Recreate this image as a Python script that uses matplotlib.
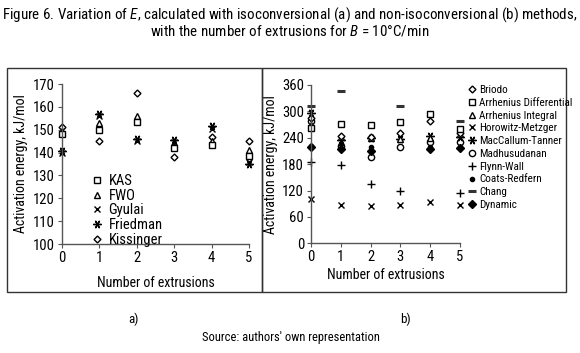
import numpy as np
import matplotlib
matplotlib.use("Agg")
import matplotlib.pyplot as plt
from matplotlib.patches import Rectangle
from matplotlib import font_manager as fm

names = {f.name for f in fm.fontManager.ttflist}
cond = [n for n in ['Roboto Condensed', 'Liberation Sans Narrow', 'Open Sans Condensed',
                    'DejaVu Sans Condensed'] if n in names]
base = cond[0] if cond else 'Roboto'
plt.rcParams['font.family'] = [base, 'DejaVu Sans']
plt.rcParams['mathtext.fontset'] = 'custom'
plt.rcParams['mathtext.rm'] = base
plt.rcParams['mathtext.it'] = base + ':italic'

extrusions = [0, 1, 2, 3, 4, 5]

# Panel a: isoconversional methods (kJ/mol)
kas = [148, 150, 153.5, 142, 143.5, 138.5]
fwo = [149.5, 153, 156, 143, 145, 141]
gyulai = [140, 156, 145, 144.5, 150.5, 136]
friedman = [140.5, 157, 146, 145.5, 151.5, 135]
kissinger = [151, 145, 166, 138, 147, 145]

# Panel b: non-isoconversional methods (kJ/mol)
nan = np.nan
briodo = [284, 245, 242, 250, 277, 250]
arr_diff = [263, 272, 268, 276, 294, 260]
arr_int = [270, 242, 239, 237, 240, 248]
horowitz = [100, 87, 85, 87, 95, 88]
maccallum = [296, 235, 240, 238, 244, 242]
madhu = [279, 221, 196, 220, 231, 231]
flynn = [186, 178, 135, 119, nan, 115]
coats = [222, 225, 218, nan, 218, 218]
chang = [312, 347, nan, 312, nan, 278]
dynamic = [220, 214, 211, nan, 214, 216]

W, H = 580, 353
fig = plt.figure(figsize=(W / 100, H / 100), dpi=100)

def fx(px):
    return px / W

def fy(py):
    return 1 - py / H

# panel frames
for x0, x1 in [(6.5, 261.5), (261.5, 566)]:
    fig.patches.append(Rectangle((fx(x0), fy(292)), fx(x1) - fx(x0), fy(68) - fy(292),
                                 transform=fig.transFigure, fill=False, lw=1.0,
                                 edgecolor='#333333'))

axa = fig.add_axes([fx(62), fy(244), fx(249) - fx(62), fy(84) - fy(244)])
axb = fig.add_axes([fx(311), fy(243.3), fx(460) - fx(311), fy(85) - fy(243.3)])

def style(ax):
    for s in ['top', 'right']:
        ax.spines[s].set_visible(False)
    for s in ['left', 'bottom']:
        ax.spines[s].set_color('#555555')
        ax.spines[s].set_linewidth(1.0)
    ax.tick_params(axis='both', direction='out', length=3, width=0.8, colors='#555555',
                   labelcolor='black', labelsize=10.5)
    ax.tick_params(axis='y', pad=2)
    ax.set_xlim(0, 5)
    ax.set_xticks(extrusions)
    ax.set_facecolor('none')

style(axa)
axa.set_ylim(100, 170)
axa.set_yticks(range(100, 171, 10))
axa.tick_params(axis='x', pad=2)

k = dict(color='black', linestyle='none', clip_on=False, mew=1.0)
axa.plot(extrusions, gyulai, marker='x', ms=5, label='Gyulai', **k)
axa.plot(extrusions, friedman, marker=(6, 2, 90), ms=6, label='Friedman', **k)
axa.plot(extrusions, kissinger, marker='D', ms=3.5, mfc='white', label='Kissinger', **k)
axa.plot(extrusions, fwo, marker='^', ms=4.5, mfc='white', label='FWO', **k)
axa.plot(extrusions, kas, marker='s', ms=5, mfc='white', label='KAS', **k)
h, l = axa.get_legend_handles_labels()
order = ['KAS', 'FWO', 'Gyulai', 'Friedman', 'Kissinger']
hh = [h[l.index(o)] for o in order]
fig.legend(hh, order, loc='upper left', bbox_to_anchor=(fx(91), fy(174)),
           frameon=False, fontsize=10.5, handlelength=0.8, handletextpad=0.4,
           labelspacing=0.05, borderpad=0, borderaxespad=0)
axa.set_ylabel('Activation energy, kJ/mol', fontsize=10)
axa.yaxis.set_label_coords((28 - 62) / 187, 0.5)
axa.set_xlabel('Number of extrusions', fontsize=10, labelpad=8)

style(axb)
axb.set_ylim(0, 360)
axb.set_yticks(range(0, 361, 60))
axb.tick_params(axis='x', pad=2)
axb.plot(extrusions, horowitz, marker='x', ms=5, label='Horowitz-Metzger', **k)
axb.plot(extrusions, flynn, marker='+', ms=6, label='Flynn-Wall', **k)
axb.plot(extrusions, madhu, marker='o', ms=4.5, mfc='white', label='Madhusudanan', **k)
axb.plot(extrusions, coats, marker='o', ms=3, label='Coats-Redfern', **k)
axb.plot(extrusions, dynamic, marker='D', ms=4, label='Dynamic', **k)
axb.plot(extrusions, maccallum, marker=(6, 2, 90), ms=6, label='MacCallum-Tanner', **k)
axb.plot(extrusions, arr_int, marker='^', ms=4.5, mfc='white', label='Arrhenius Integral', **k)
axb.plot(extrusions, briodo, marker='D', ms=3.5, mfc='white', label='Briodo', **k)
axb.plot(extrusions, arr_diff, marker='s', ms=5, mfc='white', label='Arrhenius Differential', **k)
axb.plot(extrusions, chang, marker='_', ms=6, mew=2.2, color='#333333', linestyle='none',
         clip_on=False, label='Chang')
h, l = axb.get_legend_handles_labels()
order_b = ['Briodo', 'Arrhenius Differential', 'Arrhenius Integral', 'Horowitz-Metzger',
           'MacCallum-Tanner', 'Madhusudanan', 'Flynn-Wall', 'Coats-Redfern', 'Chang', 'Dynamic']
hh = [h[l.index(o)] for o in order_b]
fig.legend(hh, order_b, loc='upper left', bbox_to_anchor=(fx(468), fy(85)),
           frameon=False, fontsize=8, handlelength=0.7, handletextpad=0.3,
           labelspacing=0.25, borderpad=0, borderaxespad=0)
axb.set_ylabel('Activation energy, kJ/mol', fontsize=10)
axb.yaxis.set_label_coords((278 - 311) / 149, 0.5)
axb.set_xlabel('Number of extrusions', fontsize=10, labelpad=3)

fig.text(0.5, fy(15), 'Figure 6. Variation of $E$, calculated with isoconversional (a) and '
         'non-isoconversional (b) methods,', ha='center', va='center', fontsize=10.8)
fig.text(0.5, fy(31), 'with the number of extrusions for $B$ = 10°C/min',
         ha='center', va='center', fontsize=10.8)
fig.text(fx(133), fy(319), 'a)', ha='center', va='center', fontsize=9.5)
fig.text(fx(405), fy(319), 'b)', ha='center', va='center', fontsize=9.5)
fig.text(fx(291), fy(338), "Source: authors' own representation", ha='center', va='center',
         fontsize=9)

fig.savefig('out.png', dpi=100)
